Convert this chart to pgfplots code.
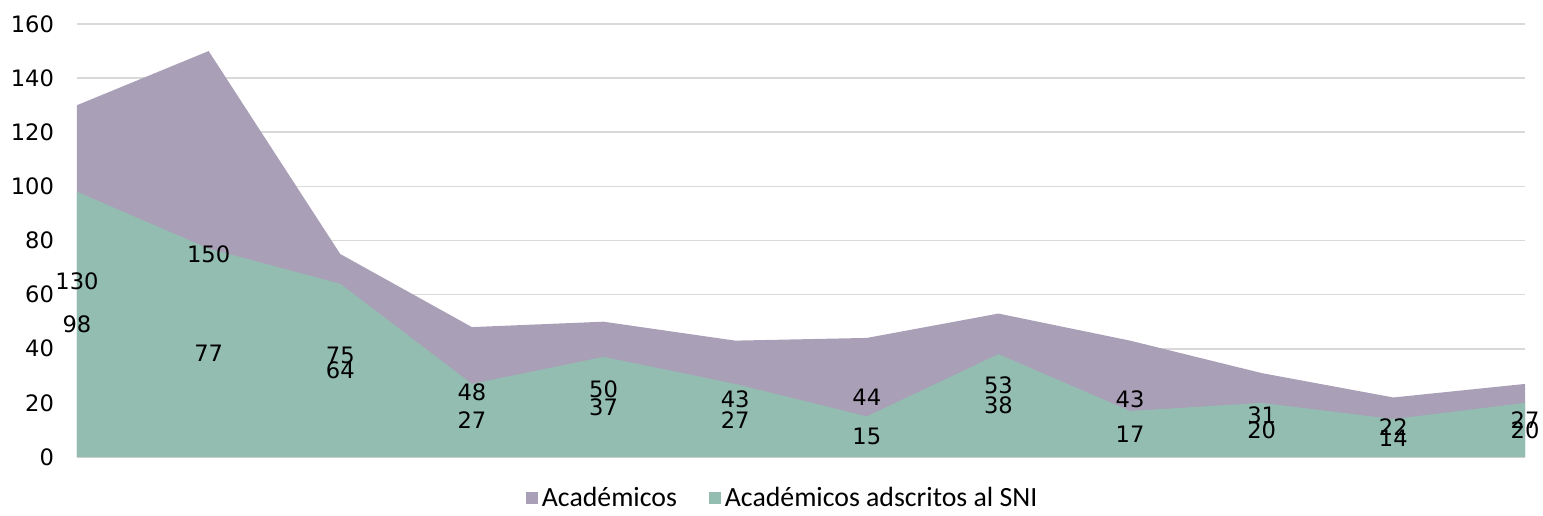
\documentclass[border=0pt]{standalone}
\usepackage{pgfplots}
\pgfplotsset{compat=1.18}
\usepackage{fontspec}
\setmainfont{DejaVu Sans}
\newfontfamily\legfont{Carlito}
\definecolor{cacad}{HTML}{A99FB7}
\definecolor{csni}{HTML}{94BDB2}
\definecolor{cgrid}{HTML}{D9D9D9}
\begin{document}
\begin{tikzpicture}[x=1pt,y=1pt]
\begin{axis}[
  scale only axis,
  width=724pt, height=216.5pt,
  xmin=0, xmax=11, ymin=0, ymax=160,
  axis x line*=bottom, axis y line*=left,
  x axis line style={draw=cgrid, line width=1pt, -},
  y axis line style={draw=none},
  xtick=\empty,
  ytick={0,20,...,160},
  ymajorgrids, grid style={cgrid, line width=0.8pt},
  major tick length=0pt,
  yticklabel style={font=\fontsize{11.3}{13}\selectfont, anchor=east, xshift=-8pt},
  /pgf/number format/assume math mode=true,
  clip=false,
  legend style={draw=none, at={(0.488,-0.095)}, anchor=center, legend columns=2,
    font=\legfont\fontsize{13.9}{15}\selectfont,
    /tikz/every even column/.style={column sep=14pt},
    nodes={inner xsep=2pt}},
  legend image code/.code={\fill[#1] (0pt,-3pt) rectangle (6pt,3pt);},
]
\addplot[fill=cacad, draw=none] coordinates {
(0,130)(1,150)(2,75)(3,48)(4,50)(5,43)(6,44)(7,53)(8,43)(9,31)(10,22)(11,27)} \closedcycle;
\addlegendentry{Académicos}
\addplot[fill=csni, draw=none] coordinates {
(0,98)(1,77)(2,64)(3,27)(4,37)(5,27)(6,15)(7,38)(8,17)(9,20)(10,14)(11,20)} \closedcycle;
\addlegendentry{Académicos adscritos al SNI}
\addplot[draw=none, forget plot, nodes near coords, point meta=explicit,
  every node near coord/.style={anchor=center, font=\fontsize{11.3}{13}\selectfont, text=black}]
coordinates {
(0,65)[130](1,75)[150](2,37.5)[75](3,24)[48](4,25)[50](5,21.5)[43](6,22)[44](7,26.5)[53](8,21.5)[43](9,15.5)[31](10,11)[22](11,13.5)[27]};
\addplot[draw=none, forget plot, nodes near coords, point meta=explicit,
  every node near coord/.style={anchor=center, font=\fontsize{11.3}{13}\selectfont, text=black}]
coordinates {
(0,49)[98](1,38.5)[77](2,32)[64](3,13.5)[27](4,18.5)[37](5,13.5)[27](6,7.5)[15](7,19)[38](8,8.5)[17](9,10)[20](10,7)[14](11,10)[20]};
\end{axis}
\pgfresetboundingbox
\path (current axis.south west) ++(-38.5pt,-29pt) rectangle ([shift={(9pt,12pt)}]current axis.north east);
\end{tikzpicture}
\end{document}
